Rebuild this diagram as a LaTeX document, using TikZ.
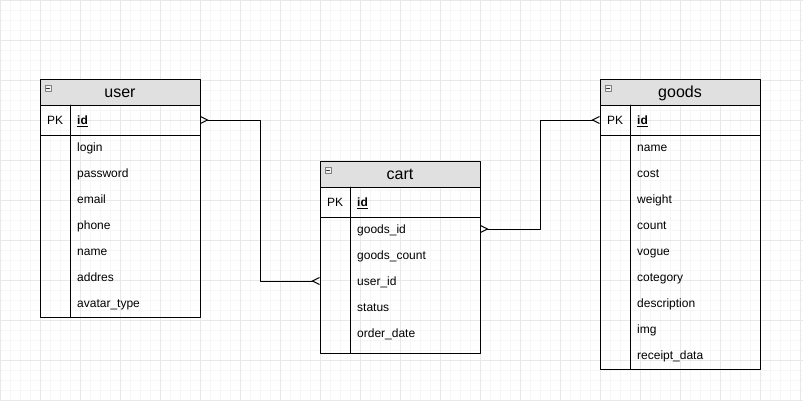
\documentclass[tikz,border=0pt]{standalone}
\usepackage{fontspec}
\setmainfont{Liberation Sans}
\usetikzlibrary{arrows.meta,positioning}
\definecolor{hdrgray}{RGB}{224,224,224}
\definecolor{gridmin}{RGB}{246,246,246}
\definecolor{gridmaj}{RGB}{232,232,232}
\tikzset{
    crow/.tip={Straight Barb[reversed,length=7pt,width=7pt]},
    tbl/.style={draw,line width=1pt,minimum width=160pt,inner sep=0pt,outer sep=0pt},
    hdr/.style={tbl,fill=hdrgray,minimum height=26pt,font=\fontsize{16}{18}\selectfont,text height=11.5pt,text depth=0pt},
    pkrow/.style={tbl,minimum height=30pt},
    fld/.style={inner sep=0pt,anchor=west,font=\fontsize{12}{14}\selectfont,text height=8.6pt,text depth=0pt},
    conn/.style={crow-crow,line width=1pt},
}
\begin{document}
\begin{tikzpicture}[x=1pt,y=-1pt,line join=round,line cap=round]
    \useasboundingbox (0,0) rectangle (803,400);
    \fill[white] (0,0) rectangle (803,400);
    % grid
    \foreach \g in {0,10,...,800} \draw[gridmin,line width=.8pt] (\g,0)--(\g,400);
    \foreach \g in {0,10,...,400} \draw[gridmin,line width=.8pt] (0,\g)--(803,\g);
    \foreach \g in {0,40,...,800} \draw[gridmaj,line width=.8pt] (\g,0)--(\g,400);
    \foreach \g in {0,40,...,400} \draw[gridmaj,line width=.8pt] (0,\g)--(803,\g);
    % name, x, y, title, body height, fields
    \def\ertable#1#2#3#4#5#6{
        \node[hdr] (#1) at (#2,#3) {#4};
        \node[pkrow,below=0pt of #1] (#1-id) {};
        \node[tbl,below=0pt of #1-id,minimum height=#5] (#1-body) {};
        \draw[line width=1pt] (#1-id.north west) ++(30,0) coordinate (#1-div) -- (#1-div |- #1-body.south);
        \draw[gray,fill=white!94!black,line width=.8pt] (#1.north west) ++(5,6) rectangle ++(6,6);
        \draw[black!80,line width=1pt] (#1.north west) ++(6.5,9) -- ++(3,0);
        \node[fld] (#1-pk) at ([xshift=7pt]#1-id.west) {PK};
        \node[fld] (#1-key) at ([xshift=37pt]#1-id.west) {\underline{\textbf{id}}};
        \foreach \fname [count=\i] in {#6}
            \node[fld] (#1-f\i) at ([xshift=37pt,yshift={-(12+26*(\i-1))*1pt}]#1-body.north west) {\fname};
    }
    \ertable{user}{120}{92}{user}{182pt}{login,password,email,phone,name,addres,avatar\_type}
    \ertable{cart}{400}{174}{cart}{136pt}{goods\_id,goods\_count,user\_id,status,order\_date}
    \ertable{goods}{680}{92}{goods}{234pt}{name,cost,weight,count,vogue,cotegory,description,img,receipt\_data}
    % relations
    \draw[conn] (user-id.east) -- ++(60,0) |- (cart-f3 -| cart-body.west);
    \draw[conn] (cart-f1 -| cart-body.east) -- ++(60,0) |- (goods-id.west);
\end{tikzpicture}
\end{document}
